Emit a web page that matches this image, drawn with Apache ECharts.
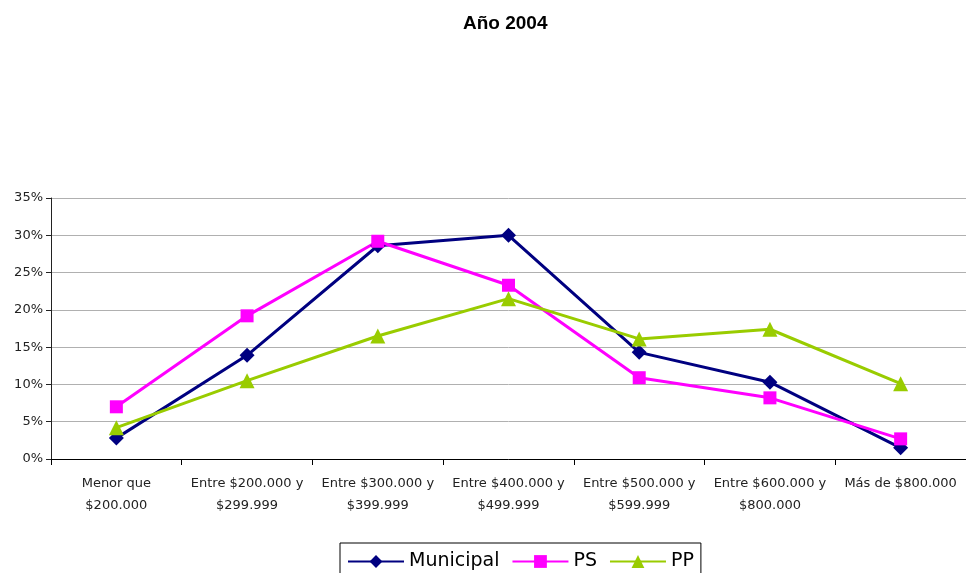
<!DOCTYPE html>
<html>
<head>
<meta charset="utf-8">
<script src="https://cdn.jsdelivr.net/npm/echarts@6/dist/echarts.min.js"></script>
<style>
  html, body { margin: 0; padding: 0; background: #fff; }
  #chart { width: 966px; height: 573px; }
</style>
</head>
<body>
<div id="chart"></div>
<script>
// categorías de ingreso
const categories = [
  'Menor que\n$200.000',
  'Entre $200.000 y\n$299.999',
  'Entre $300.000 y\n$399.999',
  'Entre $400.000 y\n$499.999',
  'Entre $500.000 y\n$599.999',
  'Entre $600.000 y\n$800.000',
  'Más de $800.000'
]

// porcentajes por dependencia
const municipal = [2.8, 13.9, 28.6, 30.0, 14.3, 10.3, 1.5]
const ps = [7.0, 19.2, 29.2, 23.3, 10.9, 8.2, 2.7]
const pp = [4.2, 10.5, 16.5, 21.5, 16.1, 17.4, 10.1]

const chart = echarts.init(document.getElementById('chart'))

const labelFont = 'Century Gothic, "DejaVu Sans", sans-serif'

const mkSeries = (name, data, color, symbol, size) => ({
  name: name,
  type: 'line',
  data: data,
  symbol: symbol,
  symbolSize: size,
  showSymbol: true,
  lineStyle: { color: color, width: 3 },
  itemStyle: { color: color },
  animation: false
})

chart.setOption({
  title: {
    text: 'Año 2004',
    left: 458,
    top: 9,
    textStyle: {
      fontFamily: '"Liberation Sans", Arial, sans-serif',
      fontSize: 19,
      fontWeight: 'bold',
      color: '#000'
    }
  },
  legend: {
    left: 340,
    top: 543,
    padding: [9, 7, 12, 7],
    borderColor: '#000',
    borderWidth: 1,
    borderRadius: 0,
    itemGap: 12,
    itemWidth: 56,
    itemHeight: 16,
    textStyle: {
      fontFamily: labelFont,
      fontSize: 19,
      color: '#000'
    },
    data: ['Municipal', 'PS', 'PP']
  },
  grid: {
    left: 51,
    right: -2,
    top: 198,
    bottom: 114
  },
  xAxis: {
    type: 'category',
    data: categories,
    boundaryGap: true,
    axisLine: { lineStyle: { color: '#000', width: 1 } },
    axisTick: { show: true, length: 6, lineStyle: { color: '#000' } },
    axisLabel: {
      interval: 0,
      margin: 14,
      lineHeight: 22,
      fontFamily: labelFont,
      fontSize: 13,
      color: '#222'
    },
    splitLine: { show: false }
  },
  yAxis: {
    type: 'value',
    min: 0,
    max: 35,
    interval: 5,
    axisLine: { show: true, lineStyle: { color: '#222', width: 1 } },
    axisTick: { show: true, length: 5, lineStyle: { color: '#222' } },
    axisLabel: {
      formatter: '{value}%',
      margin: 8,
      fontFamily: labelFont,
      fontSize: 13,
      color: '#222'
    },
    splitLine: { show: true, lineStyle: { color: '#b0b0b0', width: 1 } }
  },
  series: [
    mkSeries('Municipal', municipal, '#000080', 'diamond', 15),
    mkSeries('PS', ps, '#ff00ff', 'rect', 13),
    mkSeries('PP', pp, '#99cc00', 'triangle', 15)
  ]
})
</script>
</body>
</html>
